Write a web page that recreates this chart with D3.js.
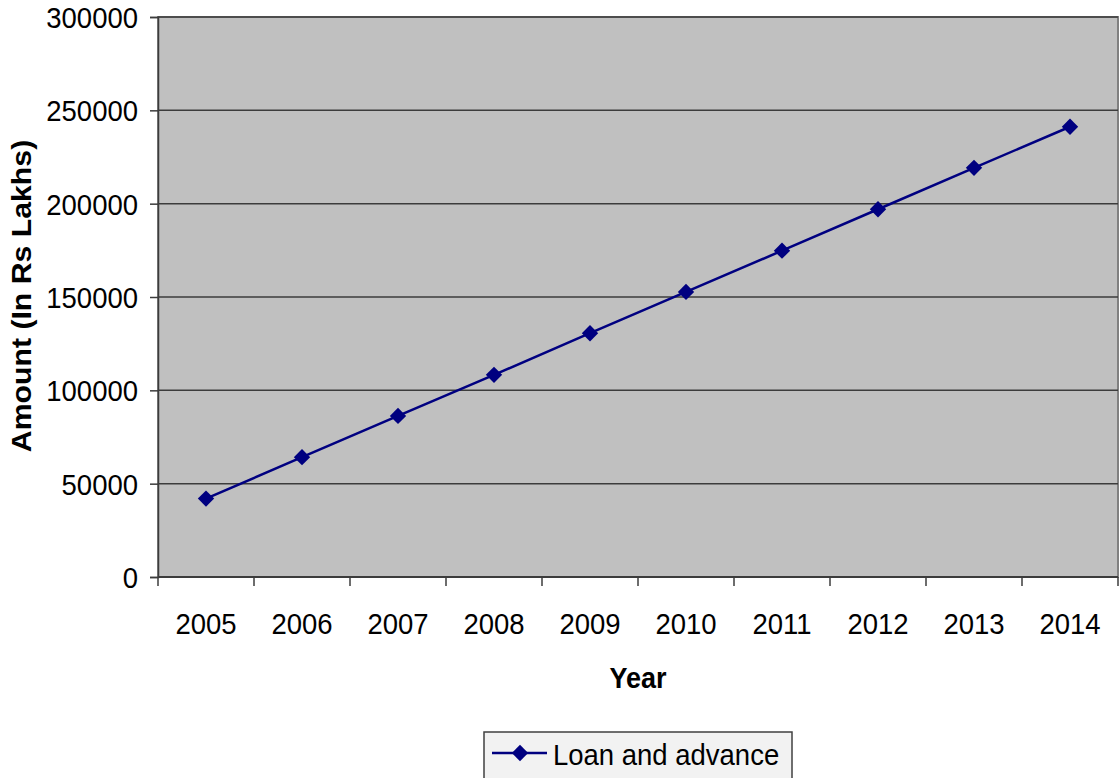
<!DOCTYPE html>
<html>
<head>
<meta charset="utf-8">
<script src="https://cdn.jsdelivr.net/npm/d3@7"></script>
<style>
  html, body { margin: 0; padding: 0; background: #ffffff; }
  svg { display: block; font-family: "Liberation Sans", Arial, sans-serif; }
</style>
</head>
<body>
<svg id="chart" width="1120" height="778"></svg>
<script>
// Loans and advances by year (Rs Lakhs)
const years = ["2005", "2006", "2007", "2008", "2009", "2010", "2011", "2012", "2013", "2014"];
const loanValues = [42000, 64200, 86300, 108300, 130600, 152700, 174800, 197000, 219200, 241200];
const yTicks = [0, 50000, 100000, 150000, 200000, 250000, 300000];
const seriesName = "Loan and advance";

const svg = d3.select("#chart");
const plot = { left: 158, right: 1118, top: 17, bottom: 577 };
const FONT = "Liberation Sans, Arial, sans-serif";
const LABEL_SIZE = 27.5;
const STRETCH = 1.1; // text is drawn slightly taller than wide

const x = d3.scaleBand().domain(years).range([plot.left, plot.right]).padding(0);
const y = d3.scaleLinear().domain([0, 300000]).range([plot.bottom, plot.top]);

// plot background
svg.append("rect")
  .attr("x", plot.left).attr("y", plot.top)
  .attr("width", plot.right - plot.left).attr("height", plot.bottom - plot.top)
  .attr("fill", "#c0c0c0")
  .attr("stroke", "#808080").attr("stroke-width", 2);

// horizontal gridlines
svg.append("g").selectAll("line")
  .data(yTicks.filter(d => d > 0))
  .join("line")
  .attr("x1", plot.left).attr("x2", plot.right)
  .attr("y1", d => y(d)).attr("y2", d => y(d))
  .attr("stroke", "#3c3c3c").attr("stroke-width", 1.5);

// y axis
const yAxis = svg.append("g")
  .attr("transform", `translate(${plot.left},0)`)
  .call(d3.axisLeft(y).tickValues(yTicks).tickFormat(d3.format("d")).tickSize(8).tickPadding(12));
yAxis.select(".domain").attr("stroke", "#3c3c3c").attr("stroke-width", 1.5);
yAxis.selectAll(".tick line").attr("stroke", "#3c3c3c").attr("stroke-width", 1.5);
yAxis.selectAll(".tick text")
  .attr("font-size", LABEL_SIZE).attr("fill", "#000")
  .attr("font-family", FONT)
  .attr("dy", null)
  .attr("dominant-baseline", "central")
  .attr("transform", `scale(1,${STRETCH})`)
  .attr("y", 0);
// keep labels centred on their ticks after the vertical stretch
yAxis.selectAll(".tick").each(function(d) {
  d3.select(this).select("text")
    .attr("transform", `translate(0,0) scale(1,${STRETCH})`);
});

// x axis with ticks on category boundaries
const xAxisG = svg.append("g").attr("transform", `translate(0,${plot.bottom})`);
xAxisG.append("line")
  .attr("x1", plot.left).attr("x2", plot.right)
  .attr("stroke", "#3c3c3c").attr("stroke-width", 2);
const boundaries = years.map(d => x(d)).concat([x(years[years.length - 1]) + x.bandwidth()]);
xAxisG.selectAll("line.tick").data(boundaries).join("line")
  .attr("class", "tick")
  .attr("x1", d => d).attr("x2", d => d)
  .attr("y1", 0).attr("y2", 9)
  .attr("stroke", "#3c3c3c").attr("stroke-width", 1.5);
xAxisG.selectAll("text").data(years).join("text")
  .attr("transform", d => `translate(${x(d) + x.bandwidth() / 2},57) scale(1,${STRETCH})`)
  .attr("text-anchor", "middle")
  .attr("font-size", LABEL_SIZE).attr("fill", "#000")
  .text(d => d);

// axis titles
svg.append("text")
  .attr("transform", `translate(638,688) scale(1,${STRETCH})`)
  .attr("text-anchor", "middle")
  .attr("font-size", 27).attr("font-weight", "bold")
  .text("Year");
svg.append("text")
  .attr("transform", `translate(31,296) rotate(-90) scale(${STRETCH},1)`)
  .attr("text-anchor", "middle")
  .attr("font-size", 27.5).attr("font-weight", "bold")
  .text("Amount (In Rs Lakhs)");

// series line
const cx = d => x(d) + x.bandwidth() / 2;
const line = d3.line().x((d, i) => cx(years[i])).y(d => y(d));
svg.append("path")
  .datum(loanValues)
  .attr("d", line)
  .attr("fill", "none")
  .attr("stroke", "#000080").attr("stroke-width", 2.5);

// diamond markers
const diamond = d3.symbol().type(d3.symbolDiamond2).size(170);
svg.append("g").selectAll("path")
  .data(loanValues)
  .join("path")
  .attr("transform", (d, i) => `translate(${cx(years[i])},${y(d)})`)
  .attr("d", diamond)
  .attr("fill", "#000080");

// legend
const legend = svg.append("g");
legend.append("rect")
  .attr("x", 484).attr("y", 732)
  .attr("width", 308).attr("height", 60)
  .attr("fill", "#f2f2f2").attr("stroke", "#404040").attr("stroke-width", 1.5);
legend.append("line")
  .attr("x1", 492).attr("x2", 547).attr("y1", 753).attr("y2", 753)
  .attr("stroke", "#000080").attr("stroke-width", 2.5);
legend.append("path")
  .attr("transform", "translate(520,753)")
  .attr("d", diamond)
  .attr("fill", "#000080");
legend.append("text")
  .attr("transform", `translate(553,765) scale(1,${STRETCH})`)
  .attr("font-size", LABEL_SIZE).attr("fill", "#000")
  .text(seriesName);
</script>
</body>
</html>
